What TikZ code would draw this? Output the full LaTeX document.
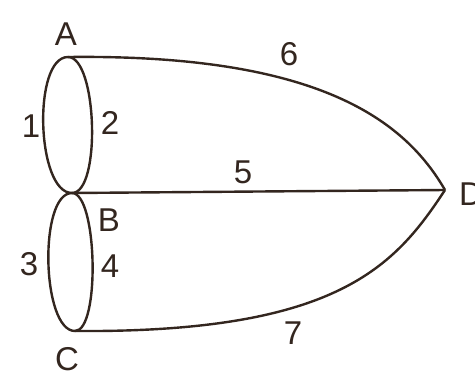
\documentclass[tikz,border=0pt]{standalone}
\usepackage{fontspec}
\setmainfont{Liberation Sans}
\begin{document}
\begin{tikzpicture}[x=1pt,y=-1pt,
  edge/.style={draw=inkc,line width=2.4pt},
  lbl/.style={text=inkc,font=\fontsize{33}{36}\selectfont,inner sep=0pt}]
\definecolor{inkc}{HTML}{33261F}
\useasboundingbox (0,0) rectangle (475,376);
\clip (0,0) rectangle (475,376);
\coordinate (A) at (68,57);
\coordinate (B) at (72,193);
\coordinate (C) at (75,331);
\coordinate (D) at (445,190);
% edges 1-4
\draw[edge] (A) to[out=180,in=180,looseness=0.67] (B);
\draw[edge] (A) to[out=0,in=0,looseness=0.55] (B);
\draw[edge] (B) to[out=180,in=180,looseness=0.62] (C);
\draw[edge] (B) to[out=0,in=0,looseness=0.47] (C);
% edges 5-7
\draw[edge] (B) -- (D);
\draw[edge] (A) .. controls (320,54) and (405,121) .. (D);
\draw[edge] (C) .. controls (338,333) and (395,266) .. (D);
% labels
\node[lbl] (lA) at (66,34) {A};
\node[lbl] (lB) at (109,220) {B};
\node[lbl] (lC) at (67,359) {C};
\node[lbl,anchor=west] (lD) at (459,194) {D};
\node[lbl] (l1) at (31,126) {1};
\node[lbl] (l2) at (110,123) {2};
\node[lbl] (l3) at (29,264) {3};
\node[lbl] (l4) at (110,266) {4};
\node[lbl] (l5) at (243,172) {5};
\node[lbl] (l6) at (289,54) {6};
\node[lbl] (l7) at (293,333) {7};
\end{tikzpicture}
\end{document}
